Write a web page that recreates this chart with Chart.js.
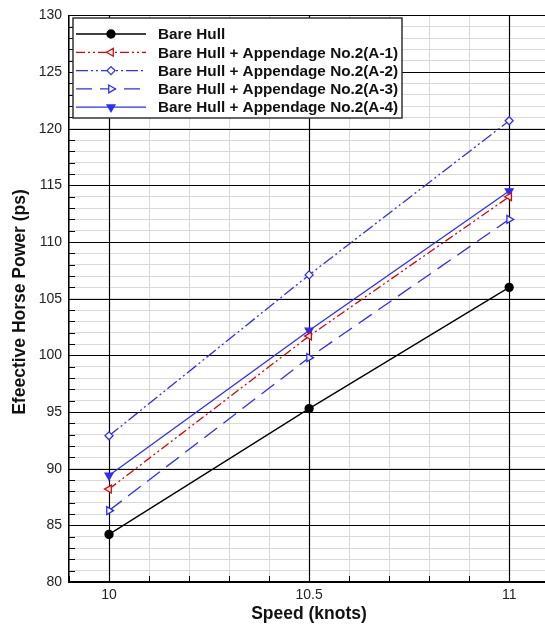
<!DOCTYPE html>
<html>
<head>
<meta charset="utf-8">
<script src="https://cdn.jsdelivr.net/npm/chart.js@4.4.0/dist/chart.umd.min.js"></script>
<style>
  html, body { margin: 0; padding: 0; background: #fff; overflow: hidden; }
  #wrap { width: 560px; height: 626px; }
</style>
</head>
<body>
<div id="wrap"><canvas id="chartEhp" width="560" height="626"></canvas></div>
<script>
// Vitesses (noeuds) et puissances effectives (ps)
const speeds = [10, 10.5, 11];
const bareHull = [84.2, 95.3, 106.0];
const hullA1 = [88.2, 101.7, 114.0];
const hullA2 = [92.9, 107.1, 120.7];
const hullA3 = [86.3, 99.8, 112.0];
const hullA4 = [89.4, 102.2, 114.5];
const seriesNames = [
  'Bare Hull',
  'Bare Hull + Appendage No.2(A-1)',
  'Bare Hull + Appendage No.2(A-2)',
  'Bare Hull + Appendage No.2(A-3)',
  'Bare Hull + Appendage No.2(A-4)'
];
const xTickLabels = [10, 10.5, 11];
const yTickLabels = [80, 85, 90, 95, 100, 105, 110, 115, 120, 125, 130];

const RED = 'rgb(225,0,0)';
const BLUE = 'rgb(45,45,255)';
const FONT = '"Liberation Sans", Arial, sans-serif';

function pts(values) {
  return values.map((v, i) => ({ x: speeds[i], y: v }));
}

// lignes principales redessinees au-dessus des lignes secondaires
const majorGrid = {
  id: 'majorGrid',
  beforeDatasetsDraw(chart) {
    const ctx = chart.ctx;
    const area = chart.chartArea;
    const xs = chart.scales.x, ys = chart.scales.y;
    ctx.save();
    ctx.strokeStyle = '#000';
    ctx.lineWidth = 1.2;
    yTickLabels.forEach(v => {
      const y = Math.round(ys.getPixelForValue(v)) + 0.5;
      ctx.beginPath();
      ctx.moveTo(area.left, y);
      ctx.lineTo(area.right, y);
      ctx.stroke();
    });
    xTickLabels.forEach(v => {
      const x = Math.round(xs.getPixelForValue(v)) + 0.5;
      ctx.beginPath();
      ctx.moveTo(x, area.top);
      ctx.lineTo(x, area.bottom);
      ctx.stroke();
    });
    ctx.restore();
  }
};

// legende encadree + petites graduations + titres d'axes
const extras = {
  id: 'extras',
  afterDraw(chart) {
    const ctx = chart.ctx;
    const area = chart.chartArea;
    const xs = chart.scales.x, ys = chart.scales.y;
    ctx.save();
    ctx.strokeStyle = '#000';
    ctx.lineWidth = 1;
    // graduations mineures vers l'interieur
    for (let v = 80; v <= 130; v += 1) {
      const y = Math.round(ys.getPixelForValue(v)) + 0.5;
      ctx.beginPath();
      ctx.moveTo(area.left, y);
      ctx.lineTo(area.left + (v % 5 === 0 ? 9 : 6), y);
      ctx.stroke();
    }
    for (let i = 99; i <= 111; i++) {
      const x = Math.round(xs.getPixelForValue(i / 10)) + 0.5;
      ctx.beginPath();
      ctx.moveTo(x, area.bottom);
      ctx.lineTo(x, area.bottom - 6);
      ctx.stroke();
    }

    // legende
    const bx = 73, by = 18, bw = 329, bh = 100;
    ctx.fillStyle = '#fff';
    ctx.fillRect(bx, by, bw, bh);
    ctx.strokeStyle = '#333';
    ctx.lineWidth = 1.5;
    ctx.strokeRect(bx, by, bw, bh);
    ctx.font = 'bold 15.3px ' + FONT;
    ctx.textBaseline = 'middle';
    chart.data.datasets.forEach((ds, i) => {
      const y = 34 + i * 18.3;
      ctx.save();
      ctx.strokeStyle = ds.borderColor;
      ctx.lineWidth = ds.borderWidth;
      ctx.setLineDash(ds.borderDash || []);
      ctx.beginPath();
      ctx.moveTo(76, y);
      ctx.lineTo(146, y);
      ctx.stroke();
      ctx.restore();
      ctx.save();
      ctx.strokeStyle = ds.pointBorderColor;
      ctx.fillStyle = ds.pointBackgroundColor;
      ctx.lineWidth = 1.3;
      Chart.helpers.drawPoint(ctx, {
        pointStyle: ds.pointStyle,
        rotation: ds.pointRotation || 0,
        radius: ds.pointRadius,
        borderWidth: 1.3
      }, 111, y);
      ctx.restore();
      ctx.fillStyle = '#111';
      ctx.textAlign = 'left';
      ctx.fillText(ds.label, 158, y + 1);
    });

    // titres d'axes
    ctx.fillStyle = '#111';
    ctx.font = 'bold 17.5px ' + FONT;
    ctx.textAlign = 'center';
    ctx.fillText('Speed (knots)', 309, 614);
    ctx.translate(20, 302);
    ctx.rotate(-Math.PI / 2);
    ctx.fillText('Efeective Horse Power (ps)', 0, 0);
    ctx.restore();
  }
};

function makeSet(label, data, color, dash, style, rot, filled, r) {
  return {
    label: label,
    data: pts(data),
    borderColor: color,
    borderWidth: 1.3,
    borderDash: dash,
    pointStyle: style,
    pointRotation: rot,
    pointRadius: r,
    pointBorderColor: color,
    pointBackgroundColor: filled ? color : '#fff',
    pointBorderWidth: 1.3,
    tension: 0,
    fill: false
  };
}

new Chart(document.getElementById('chartEhp'), {
  type: 'line',
  data: {
    datasets: [
      makeSet(seriesNames[0], bareHull, '#000', [], 'circle', 0, true, 4),
      makeSet(seriesNames[1], hullA1, RED, [9, 3, 2, 3, 2, 3], 'triangle', -90, false, 4.5),
      makeSet(seriesNames[2], hullA2, BLUE, [12, 3, 2, 3, 2, 3], 'rectRot', 0, false, 4),
      makeSet(seriesNames[3], hullA3, BLUE, [16, 8], 'triangle', 90, false, 4.5),
      makeSet(seriesNames[4], hullA4, BLUE, [], 'triangle', 180, true, 4.5)
    ]
  },
  options: {
    responsive: false,
    animation: false,
    layout: { padding: { top: 15, left: 0, right: 0, bottom: 0 } },
    plugins: { legend: { display: false }, tooltip: { enabled: false } },
    scales: {
      x: {
        type: 'linear',
        min: 9.9,
        max: 11.1125,
        afterFit: s => { s.height = 44; },
        afterBuildTicks: s => {
          const t = [];
          for (let i = 99; i <= 111; i++) t.push({ value: i / 10 });
          s.ticks = t;
        },
        ticks: {
          autoSkip: false,
          maxRotation: 0,
          padding: 5,
          color: '#222',
          font: { family: FONT, size: 14 },
          callback: v => (xTickLabels.some(l => Math.abs(l - v) < 1e-6) ? String(+v.toFixed(1)) : '')
        },
        grid: {
          drawTicks: false,
          color: '#d9d9d9',
          lineWidth: 1
        },
        border: { color: '#000', width: 1.5 }
      },
      y: {
        min: 80,
        max: 130,
        afterFit: s => { s.width = 69; },
        afterBuildTicks: s => {
          const t = [];
          for (let v = 80; v <= 130; v++) t.push({ value: v });
          s.ticks = t;
        },
        ticks: {
          autoSkip: false,
          padding: 7,
          color: '#222',
          font: { family: FONT, size: 14 },
          callback: v => (yTickLabels.includes(v) ? String(v) : '')
        },
        grid: {
          drawTicks: false,
          color: '#d9d9d9',
          lineWidth: 1
        },
        border: { color: '#000', width: 1.5 }
      }
    }
  },
  plugins: [majorGrid, extras]
});
</script>
</body>
</html>
